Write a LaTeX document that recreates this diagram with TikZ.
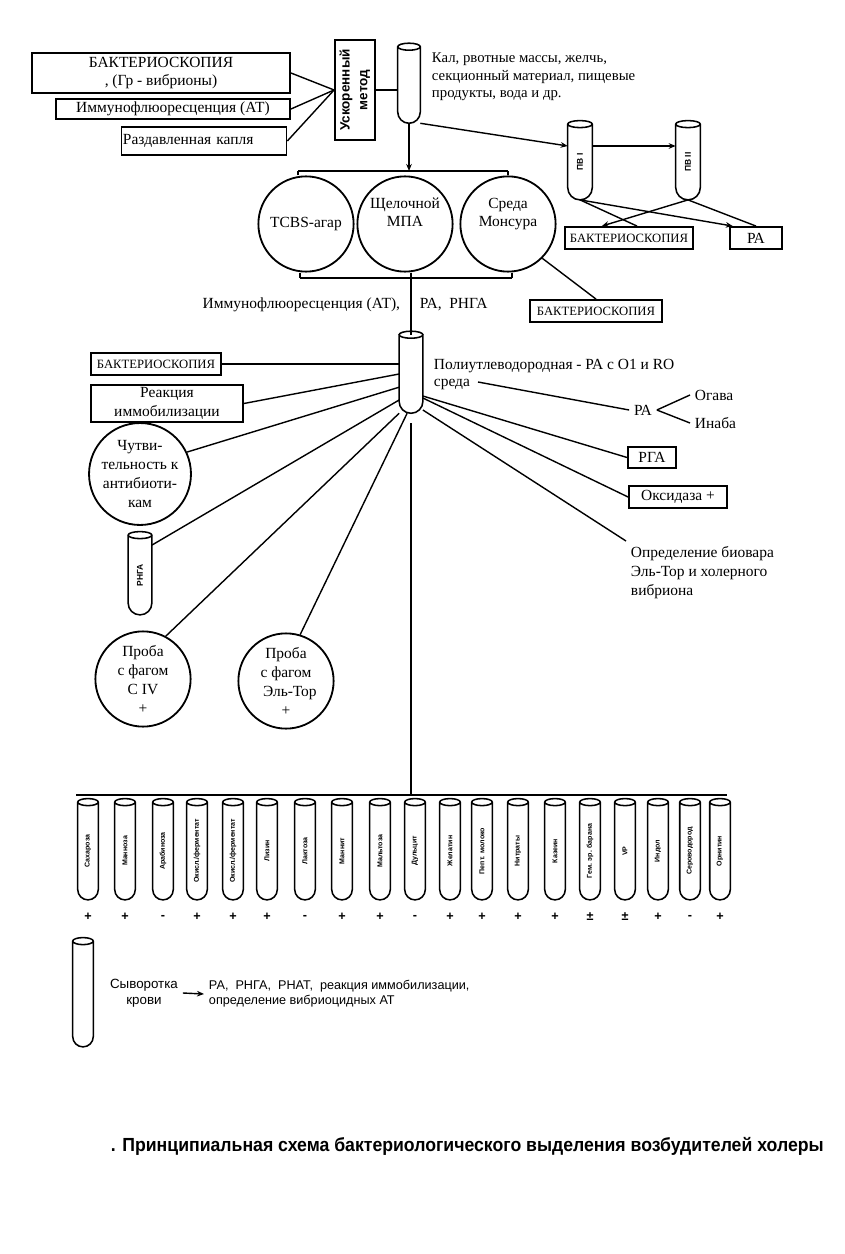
\documentclass[tikz,border=0pt]{standalone}
\usepackage{fontspec}
\setmainfont{Liberation Serif}
\setsansfont{Liberation Sans}
\usetikzlibrary{calc,arrows.meta}

\tikzset{
  box/.style={draw, line width=1.3pt, inner sep=1pt},
  disk/.style={circle, draw, line width=1.3pt, minimum size=2.38cm, inner sep=0pt, align=center},
  tube/.style={minimum width=0.55cm, minimum height=1.9cm, inner sep=0pt, font=\sffamily\bfseries\fontsize{6}{7}\selectfont},
  smalltube/.style={tube, minimum width=0.5cm, minimum height=2.43cm, font=\sffamily\bfseries\fontsize{5}{6}\selectfont},
  sign/.style={font=\sffamily\bfseries\fontsize{9}{9}\selectfont},
  arr/.style={-{Stealth[length=5pt,width=4pt]}},
}

\newcommand{\drawtube}[1]{%
  \draw[line width=1.1pt] let \p1=(#1.south west), \p2=(#1.south east), \n1={(\x2-\x1)/2} in
    (#1.north west) -- ([yshift=\n1]#1.south west) arc[start angle=180, end angle=360, radius=\n1] -- (#1.north east)
    (#1.north) ellipse[x radius=\n1, y radius=2.5pt];}

\begin{document}
\begin{tikzpicture}[x=0.025cm, y=-0.025cm, font=\fontsize{11}{13}\selectfont]
  \useasboundingbox (0,0) rectangle (844,1254);
  \begin{scope}[every node/.style={box}]
  \node[minimum width=6.45cm, minimum height=1cm, align=center] (bak1) at (161,73) {БАКТЕРИОСКОПИЯ\\, (Гр - вибрионы)};
  \node[minimum width=5.85cm, minimum height=0.5cm, inner ysep=0pt] (ifa1) at (173,109) {Иммунофлюоресценция (АТ)};
  \node[minimum height=0.68cm, text width=4.05cm, align=left] (kaplya) at (204,141) {Раздавленная капля};
  \node[minimum width=1cm, minimum height=2.5cm, font=\sffamily\bfseries\fontsize{9.6}{12.5}\selectfont] (fast) at (355,90) {\rotatebox{90}{\begin{tabular}{@{}c@{}}Ускоренный\\метод\end{tabular}}};
  \node[minimum width=3.3cm, minimum height=0.55cm, font=\fontsize{9}{11}\selectfont] (bak2) at (596,311) {БАКТЕРИОСКОПИЯ};
  \node[minimum width=3.2cm, minimum height=0.55cm, font=\fontsize{9}{11}\selectfont] (bak3) at (629,238) {БАКТЕРИОСКОПИЯ};
  \node[minimum width=1.3cm, minimum height=0.55cm] (ra3) at (756,238) {РА};
  \node[minimum width=3.25cm, minimum height=0.55cm, font=\fontsize{9}{11}\selectfont] (bak4) at (156,364) {БАКТЕРИОСКОПИЯ};
  \node[minimum width=3.8cm, minimum height=0.93cm, align=center] (reac) at (167,403.5) {Реакция\\иммобилизации};
  \node[minimum width=1.2cm, minimum height=0.53cm] (rga) at (652,457.5) {РГА};
  \node[minimum width=2.45cm, minimum height=0.55cm] (oxid) at (678,497) {Оксидаза +};
  \end{scope}

  \node[tube] (src) at (409,85) {};
  \drawtube{src}
  \node[anchor=north west, align=left, font=\fontsize{10.5}{12.5}\selectfont] (srctext) at (427,48) {Кал, рвотные массы, желчь,\\секционный материал, пищевые\\продукты, вода и др.};

  \node[disk] (tcbs) at (306,224) {TCBS-агар};
  \node[disk] (mpa) at (405,224) {Щелочной\\МПА\\[4pt]};
  \node[disk] (mons) at (508,224) {Среда\\Монсура\\[4pt]};
  \coordinate (split) at (409,171);
  \coordinate (topL) at (298,171);
  \coordinate (topR) at (508,171);
  \coordinate (botL) at (300,278);
  \coordinate (botR) at (512,278);
  \node[anchor=east] (ifa2) at (405,305) {Иммунофлюоресценция (АТ),};
  \node[anchor=west] (ra1) at (415,305) {РА,\ \ РНГА};

  \node[tube, minimum width=0.6cm, minimum height=1.88cm] (pv1) at (580,162) {\rotatebox{90}{ПВ I}};
  \node[tube, minimum width=0.6cm, minimum height=1.88cm] (pv2) at (688,162) {\rotatebox{90}{ПВ II}};
  \drawtube{pv1}
  \drawtube{pv2}

  \node[tube, minimum width=0.58cm, minimum height=1.95cm] (poly) at (411,374) {};
  \drawtube{poly}
  \node[anchor=north west, align=left, font=\fontsize{11}{12.5}\selectfont] (polytext) at (429,354) {Полиутлеводородная - РА с О1 и RO\\среда};
  \coordinate (sredaend) at (478,382);
  \node[disk, minimum size=2.4cm, font=\fontsize{11}{13.5}\selectfont] (sens) at (140,474) {Чутви-\\тельность к\\антибиоти-\\кам};
  \node[tube, minimum width=0.58cm, minimum height=1.98cm] (rnga) at (140,575) {\rotatebox{90}{РНГА}};
  \drawtube{rnga}
  \node[disk, font=\fontsize{11}{13.5}\selectfont] (ph1) at (143,679) {Проба\\с фагом\\С IV\\+};
  \node[disk, font=\fontsize{11}{13.5}\selectfont] (ph2) at (286,681) {Проба\\с фагом\\\ \ Эль-Тор\\+};
  \node (ra4) at (643,410) {РА};
  \node[anchor=west] (ogava) at (690,395) {Огава};
  \node[anchor=west] (inaba) at (690,423) {Инаба};
  \node[anchor=north west, align=left, font=\fontsize{11}{13.5}\selectfont] (biovar) at (626,541) {Определение биовара\\Эль-Тор и холерного\\вибриона};

  \coordinate (barL) at (76,795);
  \coordinate (barM) at (411,795);
  \coordinate (barR) at (727,795);
  \foreach \x/\name/\s [count=\i] in {88/Сахароза/+, 125/Манноза/+, 163/Арабиноза/-, 197/{Окисл./ферментат}/+,
      233/{Окисл./ферментат}/+, 267/Лизин/+, 305/Лактоза/-, 342/Маннит/+, 380/Мальтоза/+, 415/Дульцит/-,
      450/Желатин/+, 482/Пепт. молоко/+, 518/Нитраты/+, 555/Казеин/+, 590/Гем. эр. барана/±, 625/VP/±,
      658/Индол/+, 690/Сероводород/-, 720/Орнитин/+} {
    \node[smalltube] (b\i) at (\x,851) {\rotatebox{90}{\name}};
    \drawtube{b\i}
    \node[sign] (s\i) at (\x,917) {\s};
  }

  \node[tube, minimum width=0.5cm, minimum height=2.63cm] (serum) at (83,994) {};
  \drawtube{serum}
  \node[align=center, font=\sffamily\fontsize{9.5}{11.5}\selectfont] (serumtext) at (144,993) {Сыворотка\\крови};
  \node[anchor=west, align=left, font=\sffamily\fontsize{9}{10.5}\selectfont] (serumtests) at (204,994) {РА,\ \ РНГА,\ \ РНАТ,\ \ реакция иммобилизации,\\определение вибриоцидных АТ};
  \node[anchor=west, font=\sffamily\bfseries\fontsize{13.5}{15}\selectfont] (title) at (106,1146) {\scalebox{0.93}[1]{. Принципиальная схема бактериологического выделения возбудителей холеры}};

  \begin{scope}[every edge/.style={draw=black,line width=1pt}]
  \path (bak1.east) edge (fast.west);
  \path (ifa1.east) edge (fast.west);
  \path (kaplya.east) edge (fast.west);
  \path (fast.east) edge (fast.east -| src.west);
  \path (src.south) edge[arr] (split);
  \path (topL |- tcbs.north) edge (topL);
  \path (topL) edge (topR);
  \path (topR) edge (topR |- mons.north);
  \path (botL |- tcbs.south) edge (botL);
  \path (botL) edge (botR);
  \path (botR) edge (botR |- mons.south);
  \path (poly.north |- mpa.south) edge (poly.north);
  \path (mons.-45) edge (bak2.north);
  \path (src.south east) edge[arr] ([yshift=0.4cm]pv1.west);
  \path ([yshift=0.4cm]pv1.east) edge[arr] ([yshift=0.4cm]pv2.west);
  \path (pv1.south) edge ([xshift=0.2cm]bak3.north);
  \path (pv1.south) edge[arr] ([xshift=-0.58cm]ra3.north);
  \path (pv2.south) edge[arr] ([xshift=-0.68cm]bak3.north);
  \path (pv2.south) edge (ra3.north);
  \path (bak4.east) edge (bak4.east -| poly.west);
  \path (reac.east) edge (poly.west);
  \path (sens.25) edge ([yshift=-0.33cm]poly.west);
  \path ([yshift=-0.25cm]rnga.north east) edge ([yshift=-0.65cm]poly.west);
  \path (ph1.62) edge (poly.south west);
  \path (ph2.73) edge ([xshift=0.2cm]poly.south west);
  \path (sredaend) edge (ra4.west);
  \path (ra4.east) edge (ogava.west);
  \path (ra4.east) edge (inaba.west);
  \path ([yshift=-0.55cm]poly.east) edge (rga.west);
  \path ([yshift=-0.6cm]poly.east) edge (oxid.west);
  \path ([yshift=-0.9cm]poly.east) edge (biovar.north west);
  \path (poly.south) edge[shorten <=0.25cm] (barM);
  \path (barL) edge (barR);
  \path (serumtext.east) edge[arr] (serumtests.west);
  \end{scope}
\end{tikzpicture}
\end{document}
